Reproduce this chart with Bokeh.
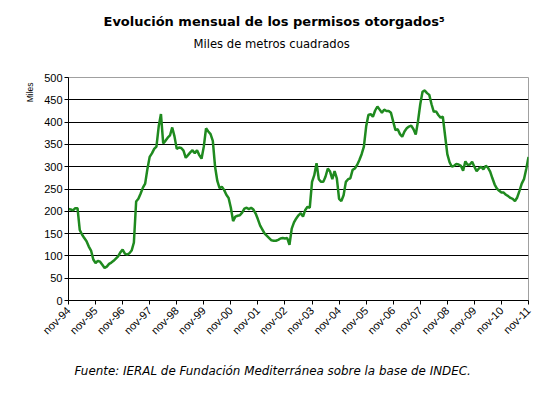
import math
from bokeh.plotting import figure
from bokeh.models import FixedTicker, ColumnDataSource, Title, LinearAxis
from bokeh.embed import file_html
from bokeh.resources import INLINE

# Monthly permits (thousand m2), nov-94 .. nov-11
values = [
    205, 204, 202, 207, 207, 158, 148, 140, 133, 121, 112, 92,
    84, 89, 87, 80, 73, 76, 82, 85, 89, 94, 99, 108,
    114, 105, 103, 106, 112, 130, 222, 228, 240, 253, 262, 295,
    322, 330, 340, 345, 390, 418, 352, 358, 365, 370, 388, 368,
    340, 343, 342, 336, 320, 326, 332, 337, 330, 337, 326, 318,
    345, 386, 379, 373, 358, 300, 268, 252, 255, 248, 237, 230,
    208, 178, 188, 190, 191, 197, 206, 208, 205, 208, 204, 195,
    182, 168, 159, 150, 145, 140, 135, 134, 134, 136, 139, 140,
    139, 140, 125, 161, 175, 184, 191, 196, 188, 203, 210, 208,
    266, 281, 308, 272, 266, 266, 278, 296, 289, 272, 290, 274,
    228, 223, 236, 266, 272, 274, 293, 296, 304, 315, 328, 345,
    390, 416, 418, 412, 426, 435, 428, 421, 428, 425, 425, 421,
    401, 382, 384, 373, 367, 379, 386, 390, 392, 384, 372, 402,
    440, 468, 471, 465, 461, 440, 423, 424, 416, 410, 412, 370,
    328, 310, 300, 302, 306, 305, 302, 291, 312, 304, 305, 311,
    300, 290, 296, 300, 294, 302, 298, 289, 274, 260, 251, 246,
    242, 242, 237, 234, 230, 228, 223, 231, 246, 262, 272, 295,
    322,
]
months = list(range(len(values)))

tick_labels = ["nov-94", "nov-95", "nov-96", "nov-97", "nov-98", "nov-99",
               "nov-00", "nov-01", "nov-02", "nov-03", "nov-04", "nov-05",
               "nov-06", "nov-07", "nov-08", "nov-09", "nov-10", "nov-11"]
tick_pos = [12 * i for i in range(len(tick_labels))]
y_ticks = list(range(0, 501, 50))

title_text = "Evolución mensual de los permisos otorgados\u2075"
subtitle_text = "Miles de metros cuadrados"
footer_text = "Fuente: IERAL de Fundación Mediterránea sobre la base de INDEC."
ylabel_text = "Miles"

FONT = "DejaVu Sans"
TICKFONT = "Liberation Sans"

p = figure(width=538, height=379, output_backend="svg", toolbar_location=None,
           x_range=(0, 204), y_range=(0, 500),
           min_border_left=68, min_border_right=10,
           min_border_top=77, min_border_bottom=79)
p.background_fill_color = "white"
p.border_fill_color = "white"
p.outline_line_color = "#a0a0a0"
p.outline_line_width = 1

src = ColumnDataSource(dict(m=months, v=values))
p.line("m", "v", source=src, line_color="#1f8a1f", line_width=2.5)

p.xaxis.ticker = FixedTicker(ticks=tick_pos)
p.xaxis.major_label_overrides = {t: l for t, l in zip(tick_pos, tick_labels)}
p.xaxis.major_label_orientation = math.pi / 4
p.yaxis.ticker = FixedTicker(ticks=y_ticks)

for ax in (p.xaxis, p.yaxis):
    ax.axis_line_color = "black"
    ax.axis_line_width = 1
    ax.major_tick_line_color = "black"
    ax.major_tick_out = 4
    ax.major_tick_in = 0
    ax.minor_tick_line_color = None
    ax.major_label_text_font = TICKFONT
    ax.major_label_text_font_size = "11px"
    ax.major_label_text_color = "black"
p.yaxis.major_label_standoff = 2
p.xaxis.major_label_standoff = 4

p.xgrid.grid_line_color = None
p.ygrid.ticker = FixedTicker(ticks=y_ticks[1:-1])
p.ygrid.grid_line_color = "black"
p.ygrid.grid_line_width = 1


def spacer(size):
    # invisible axis used only to reserve space in a side panel
    return LinearAxis(ticker=FixedTicker(ticks=[0]), axis_line_color=None,
                      major_tick_line_color=None, minor_tick_line_color=None,
                      major_label_overrides={0: ""}, major_label_text_font_size="0px",
                      major_label_standoff=0, major_tick_out=size, major_tick_in=0,
                      minor_tick_out=0, minor_tick_in=0)


# above: spacer, subtitle, title (stacked outward from the plot)
p.add_layout(spacer(25), "above")
p.add_layout(Title(text=subtitle_text, align="left", offset=125, text_font=FONT,
                   text_font_size="11.6px", text_font_style="normal",
                   text_color="black", standoff=4), "above")
p.add_layout(Title(text=title_text, align="left", offset=35, text_font=FONT,
                   text_font_size="13px", text_font_style="bold",
                   text_color="black", standoff=7), "above")

# below: x axis, spacer, footer
p.add_layout(spacer(17), "below")
p.add_layout(Title(text=footer_text, align="left", offset=6, text_font=FONT,
                   text_font_size="11.9px", text_font_style="italic",
                   text_color="black", standoff=2), "below")

p.add_layout(Title(text=ylabel_text, align="right", text_font=TICKFONT,
                   text_font_size="8.5px", text_font_style="normal",
                   text_color="black", standoff=13, offset=5), "left")

open("out.html", "w").write(file_html(p, INLINE))
